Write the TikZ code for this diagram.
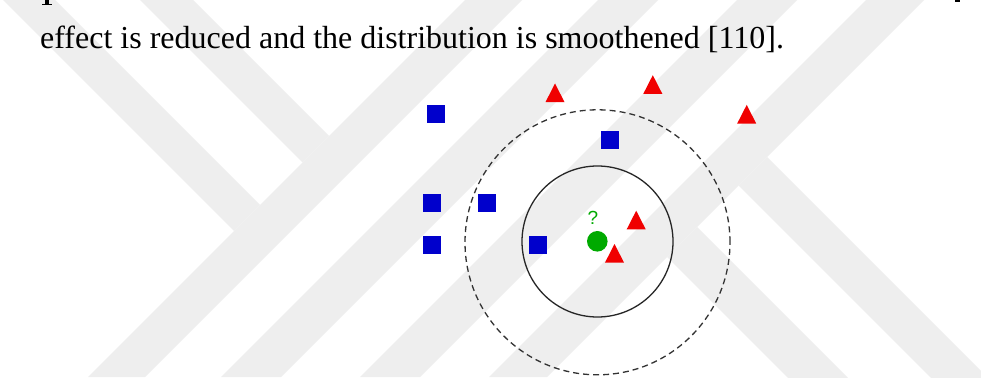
\documentclass[tikz,border=0pt]{standalone}
\usepackage{fontspec}
\setmainfont{Liberation Serif}
\newfontfamily\qfont{Liberation Sans}
\definecolor{wm}{RGB}{238,238,238}
\definecolor{sqblue}{RGB}{0,0,204}
\definecolor{trired}{RGB}{240,0,0}
\definecolor{qgreen}{RGB}{0,170,0}
\begin{document}
\begin{tikzpicture}[x=1pt,y=-1pt,
  band/.style={fill=wm, draw=none},
  sq/.style={rectangle, fill=sqblue, minimum size=18pt, inner sep=0pt},
  tri/.pic={\fill[trired] (-9.5,9.3) -- (9.5,9.3) -- (0,-9.3) -- cycle;},
  query/.style={circle, fill=qgreen, minimum size=20.6pt, inner sep=0pt},
  qmark/.style={font=\qfont\fontsize{19}{19}\selectfont, text=qgreen, inner sep=0pt},
  ring/.style={line width=1.3pt, draw=black!85},
  outerring/.style={line width=1.3pt, draw=black!80, dash pattern=on 6pt off 4pt},
  para/.style={font=\fontsize{32}{38}\selectfont, anchor=base west, inner sep=0pt}]
\useasboundingbox (0,0) rectangle (981,377);
\fill[white] (0,0) rectangle (981,377);
% watermark
\begin{scope}
\clip (0,0) rectangle (981,377);
\fill[band] (465,0) -- (522,0) -- (145,377) -- (88,377) -- cycle;
\fill[band] (598,0) -- (658,0) -- (281,377) -- (221,377) -- cycle;
\fill[band] (737,0) -- (797,0) -- (420,377) -- (360,377) -- cycle;
\fill[band] (866,0) -- (924,0) -- (547,377) -- (489,377) -- cycle;
\fill[band] (3,0) -- (55,0) -- (260,205) -- (234,231) -- cycle;
\fill[band] (140,0) -- (193,0) -- (329,136) -- (302.5,162.5) -- cycle;
\fill[band] (667,257) -- (697,227) -- (1000,530) -- (940,530) -- cycle;
\fill[band] (738.5,185.5) -- (767,157) -- (1150,540) -- (1093,540) -- cycle;
\end{scope}
% descender fragments of the line above
\fill[black] (45,0) rectangle (49,4);
\fill[black] (42,3.6) rectangle (52,5);
\fill[black] (955,0) rectangle (960,2.5);
% paragraph text
\node[para] (txt) at (40,48.5) {effect is reduced and the distribution is smoothened [110].};
% rings
\node[query] (q) at (597.3,241.3) {};
\draw[ring] (597.5,241.5) circle[radius=75.5pt];
\draw[outerring] (597.5,242.3) circle[radius=132.5pt];
\node[qmark] (qm) at (593,217.5) {?};
% squares
\node[sq] (s1) at (435.8,113.8) {};
\node[sq] (s2) at (610.2,139.5) {};
\node[sq] (s3) at (431.7,202.8) {};
\node[sq] (s4) at (486.8,202.8) {};
\node[sq] (s5) at (431.7,245) {};
\node[sq] (s6) at (538,245) {};
% triangles
\coordinate (t1) at (555,92.8);
\coordinate (t2) at (652.8,84.5);
\coordinate (t3) at (746.7,114.2);
\coordinate (t4) at (636.2,220);
\coordinate (t5) at (614.5,253.3);
\pic at (t1) {tri};
\pic at (t2) {tri};
\pic at (t3) {tri};
\pic at (t4) {tri};
\pic at (t5) {tri};
\end{tikzpicture}
\end{document}
